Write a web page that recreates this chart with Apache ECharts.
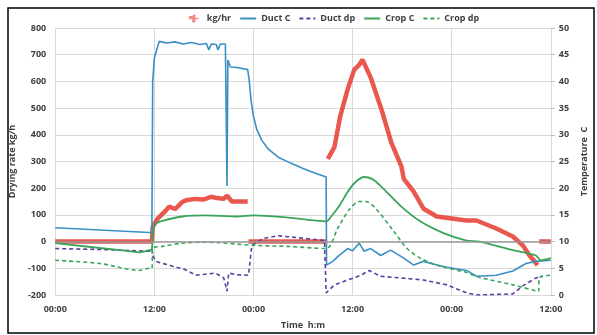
<!DOCTYPE html>
<html>
<head>
<meta charset="utf-8">
<script src="https://cdn.jsdelivr.net/npm/echarts@6/dist/echarts.min.js"></script>
<style>html,body{margin:0;padding:0;background:#fff;}#c{width:597px;height:335px;}</style>
</head>
<body>
<div id="c"></div>
<script>
// time in hours since first 00:00
const xTickLabels = ['00:00', '12:00', '00:00', '12:00', '00:00', '12:00'];
const leftTicks = [-200, 800, 100];
const rightTicks = [0, 50, 5];

// kg/hr (left axis), null = gap
const kgHr = [
  [0, 0], [11.7, 0], [11.8, 55], [12.4, 86], [13.2, 110], [13.8, 131], [14.5, 122], [15.4, 149], [16, 156],
  [17, 160], [18, 158], [18.9, 168], [19.6, 163], [20.4, 160], [20.8, 172], [21.4, 150], [23.3, 150],
  null,
  [23.4, 0], [32.8, 0],
  null,
  [33.0, 310], [33.8, 354], [34.5, 469], [35.4, 570], [36.2, 644], [36.8, 662], [37.2, 681], [38.2, 614],
  [39.5, 495], [40.7, 370], [41.9, 283], [42.2, 235], [43.4, 187], [44.6, 123], [46.2, 94], [49.8, 79],
  [51, 79], [53.4, 49], [55.4, 19], [56.6, -14], [57.4, -51], [58.4, -88],
  null,
  [58.6, 0], [60, 0]
];

// temperatures (right axis)
const ductC = [
  [0, 12.6], [11.4, 11.7], [11.7, 11.7], [11.8, 40], [12.0, 44.4], [12.3, 46], [12.6, 47.5], [13.5, 47.2],
  [14.5, 47.4], [15.5, 47.0], [16.5, 47.3], [17.5, 46.9], [18.3, 47.1], [18.6, 45.9], [18.9, 47.0],
  [19.5, 46.9], [19.7, 45.9], [20.0, 47.0], [20.6, 47.0], [20.8, 20.4], [20.9, 44], [21.2, 42.7],
  [22, 42.6], [23.3, 42.2], [23.5, 40], [23.7, 36.5], [24.0, 33.5], [24.4, 31], [25.0, 29], [25.8, 27.3],
  [27, 25.8], [28.5, 24.7], [30, 23.7], [31.5, 22.8], [32.8, 22.1], [32.85, 5.6], [33.6, 6.3], [34.2, 7.2],
  [35.4, 8.7], [36.0, 8.3], [36.8, 9.7], [37.4, 8.2], [38.2, 8.7], [39.4, 7.4], [40.6, 8.4], [42.2, 6.9],
  [43.4, 5.6], [44.6, 6.3], [46.2, 5.6], [47.4, 5.2], [49.8, 4.6], [51, 3.5], [53.4, 3.7], [55.4, 4.5],
  [57, 5.9], [58.2, 6.3], [60, 6.5]
];
const ductDp = [
  [0, 8.7], [6, 8.5], [11.4, 8.2], [11.7, 8.7], [11.8, 7.4], [12.2, 6.3], [13.0, 5.9], [13.8, 5.6],
  [14.5, 5.2], [15.4, 5.0], [16.2, 4.4], [17.0, 3.7], [18.2, 3.9], [19.4, 4.1], [20.4, 3.2], [20.8, 0.7],
  [21.0, 4.1], [22.0, 3.8], [23.4, 3.7], [23.8, 9.3], [25.2, 10.6], [27, 11.1], [30.2, 10.6], [32.6, 10.2],
  [32.8, 0.4], [33.8, 1.9], [35.4, 2.8], [37, 3.7], [38, 4.6], [39.4, 3.5], [41.8, 3.2], [44.6, 2.8],
  [47.4, 1.9], [49.8, 0.4], [51, 0], [55.4, 0.2], [56.6, 1.7], [58.2, 3.2], [59, 3.5]
];
const cropC = [
  [0, 9.7], [9, 8.2], [10.2, 8.0], [11.4, 8.4], [11.7, 8.6], [11.8, 11.5], [12.2, 13.4], [13, 13.9],
  [15.4, 14.7], [18.2, 14.9], [22, 14.7], [24, 14.9], [28.2, 14.5], [32.8, 13.8], [33.4, 14.7],
  [34.4, 16.7], [35.4, 19.3], [36.4, 21.2], [37.4, 22.1], [38.4, 21.7], [39.4, 20.4], [41.8, 16.7],
  [44.2, 13.8], [47.0, 11.6], [49.8, 10.2], [51.4, 10.0], [55.4, 8.4], [58.2, 7.4], [58.8, 6.5], [60, 6.9]
];
const cropDp = [
  [0, 6.5], [5.4, 5.9], [10.2, 4.6], [11.4, 5.0], [11.7, 5.0], [11.8, 8.7], [13, 9.1], [15.4, 9.7],
  [18.2, 9.9], [24, 9.3], [28.2, 9.1], [32.8, 8.7], [34.2, 12.5], [35.6, 16.0], [36.8, 17.5], [37.6, 17.5],
  [38.8, 16.2], [41, 11.9], [42.6, 8.7], [44.2, 6.9], [46.2, 5.6], [49.8, 4.2], [51.4, 3.3], [55.4, 1.9],
  [58.5, 0.7], [58.6, 3.2], [60, 3.7]
];

const txt = '#404040';
const font = 'Open Sans';
const chart = echarts.init(document.getElementById('c'));
chart.setOption({
  animation: false,
  textStyle: { fontFamily: font },
  graphic: [{ type: 'rect', shape: { x: 8, y: 8, width: 586, height: 325 }, style: { fill: 'none', stroke: '#000', lineWidth: 1.5 }, silent: true }],
  legend: {
    top: 9, left: 184, itemWidth: 16, itemHeight: 8, itemGap: 8,
    itemStyle: { opacity: 0 },
    textStyle: { fontSize: 9, fontWeight: 'bold', color: txt, fontFamily: font },
    data: [
      { name: 'kg/hr', icon: 'path://M4,0h2v4h4v2h-4v4h-4v-4h-4v-4h4z', itemStyle: { color: '#f08a8a', opacity: 1 } },
      'Duct C', 'Duct dp', 'Crop C', 'Crop dp'
    ]
  },
  grid: { left: 55, right: 42, top: 28, bottom: 37 },
  xAxis: {
    type: 'value', min: 0, max: 60, interval: 12,
    name: 'Time  h:m', nameLocation: 'middle', nameGap: 26,
    nameTextStyle: { fontSize: 9, fontWeight: 'bold', color: txt },
    axisLine: { show: false, onZero: false }, axisTick: { show: false },
    axisLabel: { fontSize: 9, fontWeight: 'bold', color: txt, margin: 10, formatter: v => xTickLabels[Math.round(v / 12)] },
    splitLine: { show: true, lineStyle: { color: '#d9d9d9', width: 1 } }
  },
  yAxis: [
    {
      type: 'value', min: leftTicks[0], max: leftTicks[1], interval: leftTicks[2],
      name: 'Drying rate kg/h', nameLocation: 'middle', nameGap: 36,
      nameTextStyle: { fontSize: 9, fontWeight: 'bold', color: txt },
      axisLine: { show: false }, axisTick: { show: false },
      axisLabel: { fontSize: 9, fontWeight: 'bold', color: txt, margin: 9 },
      splitLine: { lineStyle: { color: '#d9d9d9', width: 1 } }
    },
    {
      type: 'value', min: rightTicks[0], max: rightTicks[1], interval: rightTicks[2], position: 'right',
      name: 'Temperature  C', nameLocation: 'middle', nameGap: 28,
      nameTextStyle: { fontSize: 9, fontWeight: 'bold', color: txt },
      axisLine: { show: false }, axisTick: { show: true, length: 4, lineStyle: { color: '#bbb' } },
      axisLabel: { fontSize: 9, fontWeight: 'bold', color: txt, margin: 8 },
      splitLine: { show: false }
    }
  ],
  series: [
    {
      name: 'kg/hr', type: 'line', yAxisIndex: 0, data: kgHr, showSymbol: false, symbol: 'none',
      connectNulls: false, z: 2,
      lineStyle: { color: '#e8453c', width: 4.5, opacity: 0.9 }, itemStyle: { color: '#f08a8a' },
      markLine: {
        silent: true, symbol: 'none', label: { show: false },
        lineStyle: { color: '#9a9a9a', width: 1.5, type: 'solid' },
        data: [{ yAxis: 0 }]
      }
    },
    {
      name: 'Duct C', type: 'line', yAxisIndex: 1, data: ductC, symbol: 'none', z: 3,
      lineStyle: { color: '#3a8fc4', width: 1.6 }, itemStyle: { color: '#3a8fc4' }
    },
    {
      name: 'Duct dp', type: 'line', yAxisIndex: 1, data: ductDp, symbol: 'none', z: 3,
      lineStyle: { color: '#5a3e9c', width: 1.6, type: [4, 3] }, itemStyle: { color: '#5a3e9c' }
    },
    {
      name: 'Crop C', type: 'line', yAxisIndex: 1, data: cropC, symbol: 'none', smooth: 0.3, z: 3,
      lineStyle: { color: '#3aa55a', width: 1.8 }, itemStyle: { color: '#3aa55a' }
    },
    {
      name: 'Crop dp', type: 'line', yAxisIndex: 1, data: cropDp, symbol: 'none', smooth: 0.3, z: 3,
      lineStyle: { color: '#3aa55a', width: 1.6, type: [4, 3] }, itemStyle: { color: '#3aa55a' }
    }
  ]
});
</script>
</body>
</html>
